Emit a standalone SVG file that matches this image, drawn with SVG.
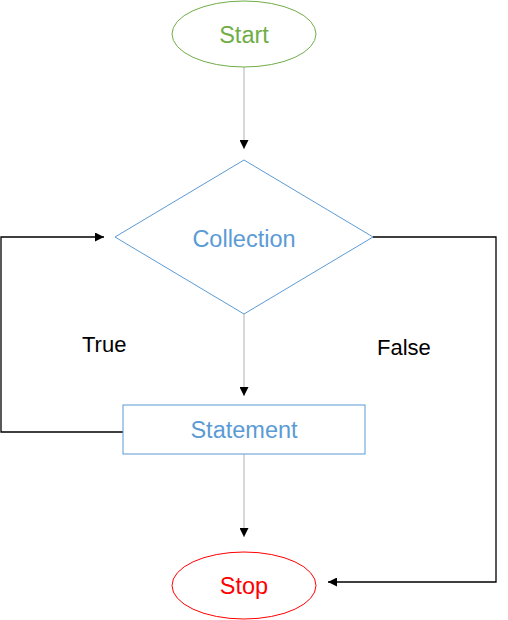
<svg xmlns="http://www.w3.org/2000/svg" width="508" height="620" viewBox="0 0 508 620">
<style>
.lbl{font-family:"Liberation Sans",Arial,sans-serif;font-size:23.5px;text-anchor:middle}
.edge{font-family:"Liberation Sans",Arial,sans-serif;font-size:22px;fill:#000}
.gray{stroke:#BFBFBF;stroke-width:1.2;fill:none}
.blk{stroke:#000;stroke-width:1.3;fill:none}
</style>
<defs>
<marker id="ah" viewBox="0 0 10 10" refX="10" refY="5" markerWidth="9" markerHeight="9" markerUnits="userSpaceOnUse" orient="auto">
<path d="M0,0 L10,5 L0,10 z" fill="#000"/>
</marker>
</defs>
<rect width="508" height="620" fill="#fff"/>
<g id="connectors">
<line class="gray" x1="244" y1="67" x2="244" y2="149" marker-end="url(#ah)"/>
<line class="gray" x1="244" y1="313" x2="244" y2="396" marker-end="url(#ah)"/>
<line class="gray" x1="244" y1="454" x2="244" y2="537" marker-end="url(#ah)"/>
<polyline class="blk" points="123,432 1,432 1,237 104,237" marker-end="url(#ah)"/>
<polyline class="blk" points="373,237 496,237 496,582 328,582" marker-end="url(#ah)"/>
<text class="edge" x="82" y="352">True</text>
<text class="edge" x="377" y="355">False</text>
</g>
<g id="start">
<ellipse cx="244" cy="34" rx="72" ry="33" fill="#fff" stroke="#70AD47" stroke-width="1"/>
<text class="lbl" x="244" y="43" fill="#70AD47">Start</text>
</g>
<g id="collection">
<polygon points="244,160 373,237 244,314 115,237" fill="#fff" stroke="#5B9BD5" stroke-width="1"/>
<text class="lbl" x="244" y="247" fill="#5B9BD5">Collection</text>
</g>
<g id="statement">
<rect x="123" y="405" width="242" height="49" fill="#fff" stroke="#5B9BD5" stroke-width="1"/>
<text class="lbl" x="244" y="438" fill="#5B9BD5">Statement</text>
</g>
<g id="stop">
<ellipse cx="244" cy="585.5" rx="72" ry="33.5" fill="#fff" stroke="#FF0000" stroke-width="1"/>
<text class="lbl" x="244" y="594" fill="#FF0000">Stop</text>
</g>
</svg>
